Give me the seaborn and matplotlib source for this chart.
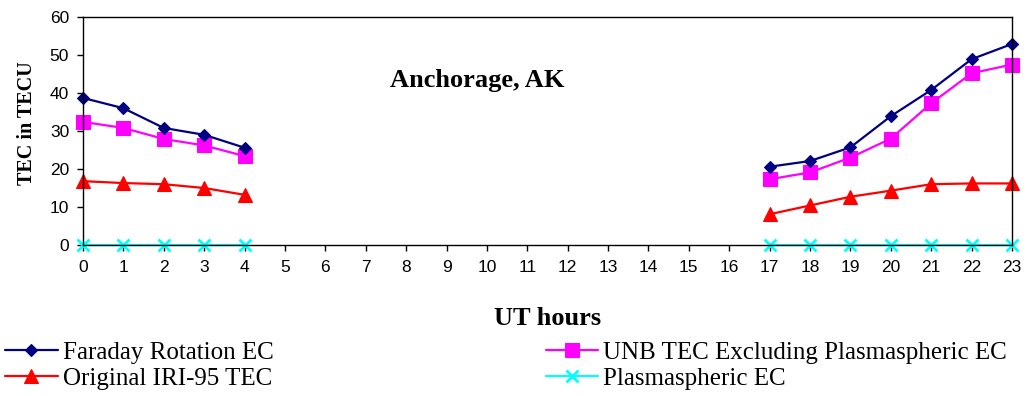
import matplotlib
matplotlib.use("Agg")
import matplotlib.pyplot as plt
from matplotlib.lines import Line2D
import seaborn as sns
import pandas as pd

hours = [0, 1, 2, 3, 4, 17, 18, 19, 20, 21, 22, 23]
segment = ["am", "am", "am", "am", "am", "pm", "pm", "pm", "pm", "pm", "pm", "pm"]
faraday = [38.7, 36.0, 30.8, 29.0, 25.6, 20.6, 22.1, 25.7, 33.9, 40.8, 48.9, 52.9]
unb = [32.4, 30.8, 27.9, 26.2, 23.4, 17.3, 19.1, 23.0, 28.0, 37.3, 45.2, 47.5]
iri = [16.8, 16.3, 16.0, 15.0, 13.2, 8.1, 10.4, 12.7, 14.3, 16.0, 16.2, 16.2]
plasma = [0, 0, 0, 0, 0, 0, 0, 0, 0, 0, 0, 0]

x_ticks = list(range(0, 24))
y_ticks = [0, 10, 20, 30, 40, 50, 60]
title = "Anchorage, AK"
xlabel = "UT hours"
ylabel = "TEC in TECU"
labels = ["Faraday Rotation EC", "Original IRI-95 TEC",
          "UNB TEC Excluding Plasmaspheric EC", "Plasmaspheric EC"]

df = pd.DataFrame({"hour": hours, "segment": segment, "faraday": faraday,
                   "unb": unb, "iri": iri, "plasma": plasma})

sns.set_style("ticks")
plt.rcParams["font.family"] = ["Liberation Sans", "DejaVu Sans"]
plt.rcParams["text.color"] = "black"
plt.rcParams["axes.labelcolor"] = "black"
plt.rcParams["xtick.color"] = "black"
plt.rcParams["ytick.color"] = "black"

fig = plt.figure(figsize=(10.29, 3.96), dpi=100)
ax = fig.add_axes([83 / 1029, 1 - 245 / 396, (1012 - 83) / 1029, (245 - 17) / 396])

styles = {
    "faraday": dict(color="#000080", marker="D", markersize=6.3, markeredgewidth=0.8, markeredgecolor="#000080"),
    "unb": dict(color="#FF00FF", marker="s", markersize=10, markeredgewidth=0.8, markeredgecolor="#FF00FF"),
    "iri": dict(color="#FF0000", marker="^", markersize=10.5, markeredgewidth=0.8, markeredgecolor="#FF0000"),
    "plasma": dict(color="#00FFFF", marker="x", markersize=9, markeredgewidth=2, markeredgecolor="#00FFFF"),
}
order = ["plasma", "iri", "unb", "faraday"]
for col in order:
    sns.lineplot(data=df, x="hour", y=col, units="segment", estimator=None,
                 ax=ax, legend=False, linewidth=1.6, clip_on=False, **styles[col])

ax.set_xlim(0, 23)
ax.set_ylim(0, 60)
ax.set_xticks(x_ticks)
ax.set_xticklabels([str(t) for t in x_ticks])
ax.set_yticks(y_ticks)
ax.tick_params(axis="both", direction="out", length=4, width=1, labelsize=12.5,
               colors="black")
ax.tick_params(axis="y", pad=6)
ax.tick_params(axis="x", pad=7)
for s in ax.spines.values():
    s.set_visible(True)
    s.set_color("black")
    s.set_linewidth(1)

ax.set_xlabel(xlabel, fontfamily="Liberation Serif", fontweight="bold", fontsize=19,
              color="black")
ax.xaxis.set_label_coords(0.5, (245 - 318) / 228)
ax.xaxis.label.set_va("center")
ax.set_ylabel(ylabel, fontfamily="Liberation Serif", fontweight="bold", fontsize=14.5,
              color="black")
ax.yaxis.set_label_coords((27 - 83) / 929, 0.535)
ax.yaxis.label.set_va("center")

ax.text((477 - 83) / 929, (245 - 80) / 228, title, transform=ax.transAxes,
        ha="center", va="center", fontfamily="Liberation Serif",
        fontweight="bold", fontsize=19, color="black")

handles = []
for col in ["faraday", "iri", "unb", "plasma"]:
    st = dict(styles[col])
    handles.append(Line2D([], [], linewidth=1.6, **st))
leg = fig.legend(handles, labels, loc="upper left", bbox_to_anchor=(5 / 1029, 1 - 341 / 396),
                 ncol=2, frameon=False, borderpad=0, borderaxespad=0,
                 handlelength=2.1, handletextpad=0.2, columnspacing=10.9, labelspacing=0.15,
                 prop={"family": "Liberation Serif", "size": 18})
for t in leg.get_texts():
    t.set_color("black")

fig.savefig("out.png", dpi=100)
